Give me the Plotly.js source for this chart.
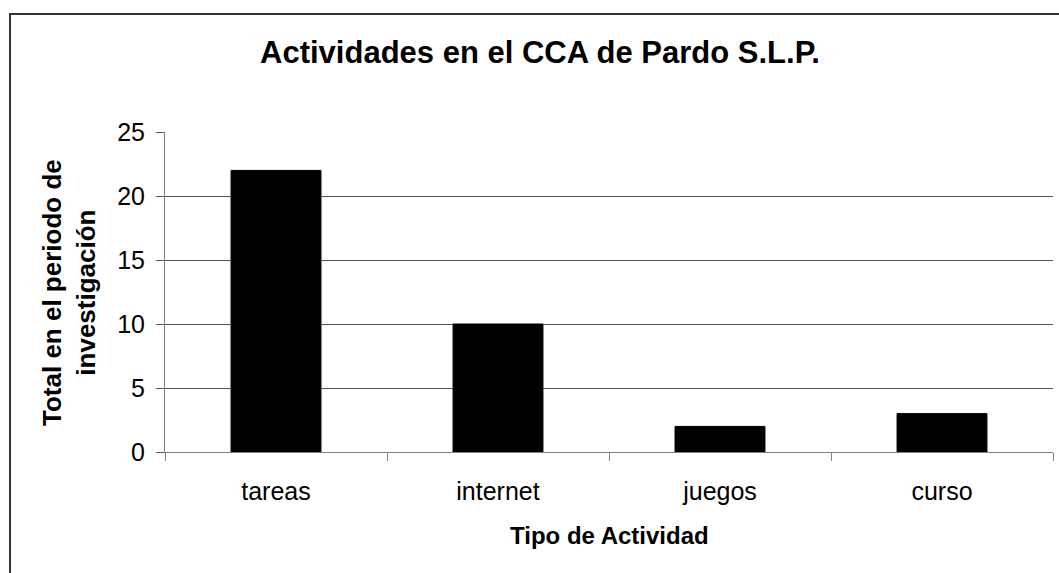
<!DOCTYPE html>
<html>
<head>
<meta charset="utf-8">
<script src="https://cdn.plot.ly/plotly-3.0.1.min.js"></script>
<style>
html,body{margin:0;padding:0;background:#fff;overflow:hidden;}
#wrap{position:relative;width:1059px;height:573px;}
#chart{position:absolute;left:0;top:0;width:1059px;height:573px;}
#frame{position:absolute;left:9px;top:13px;width:1100px;height:600px;border:2px solid #333;box-sizing:border-box;pointer-events:none;}
</style>
</head>
<body>
<div id="wrap"><div id="chart"></div><div id="frame"></div></div>
<script>
const categories = ["tareas", "internet", "juegos", "curso"];
const values = [22, 10, 2, 3];
const yTicks = [0, 5, 10, 15, 20, 25];
const gridVals = [5, 10, 15, 20];
const titleText = "Actividades en el CCA de Pardo S.L.P.";
const xTitle = "Tipo de Actividad";
const yTitle = "Total en el periodo de<br>investigación";

const font = "Liberation Sans, Arial, sans-serif";
const plotTop = 132, plotBottom = 452, plotLeft = 165, plotRight = 1053;
const ph = plotBottom - plotTop, pw = plotRight - plotLeft;
const data = [{
  type: "bar",
  x: categories,
  y: values,
  marker: {color: "#000000", line: {color: "#000000", width: 1}},
  hoverinfo: "skip"
}];
const layout = {
  width: 1059, height: 573,
  margin: {l: plotLeft, r: 1059 - plotRight, t: plotTop, b: 573 - plotBottom},
  paper_bgcolor: "rgba(0,0,0,0)",
  plot_bgcolor: "#ffffff",
  showlegend: false,
  bargap: 0.595,
  font: {family: font, color: "#000", size: 25},
  title: {text: "<b>" + titleText + "</b>", x: 540/1059, xref: "container", xanchor: "center",
          y: 1 - 52/573, yref: "container", yanchor: "middle",
          font: {family: font, size: 31, color: "#000"}},
  xaxis: {
    type: "category",
    showline: true, linecolor: "#808080", linewidth: 1,
    ticks: "outside", tickson: "boundaries", ticklen: 8, tickcolor: "#808080",
    showgrid: false, tickfont: {size: 25, family: font},
    ticklabelstandoff: 17
  },
  yaxis: {
    range: [0, 25], tickvals: yTicks, ticktext: yTicks.map(String),
    showline: true, linecolor: "#808080", linewidth: 1,
    ticks: "outside", ticklen: 8, tickcolor: "#555",
    showgrid: false,
    minor: {tickmode: "array", tickvals: gridVals, showgrid: true, gridcolor: "#555", gridwidth: 1, ticks: ""},
    zeroline: false, tickfont: {size: 25, family: font},
    ticklabelstandoff: 6
  },
  annotations: [
    {text: "<b>" + xTitle + "</b>", xref: "paper", yref: "paper", x: 0.5, y: (plotBottom - 535) / ph,
     xanchor: "center", yanchor: "middle", showarrow: false, font: {size: 24, family: font}},
    {text: "<b>" + yTitle + "</b>", xref: "paper", yref: "paper", x: (69 - plotLeft) / pw,
     y: (plotBottom - 293) / ph,
     xanchor: "center", yanchor: "middle", textangle: -90, showarrow: false,
     font: {size: 26, family: font}}
  ]
};
Plotly.newPlot("chart", data, layout, {staticPlot: true, displayModeBar: false});
</script>
</body>
</html>
